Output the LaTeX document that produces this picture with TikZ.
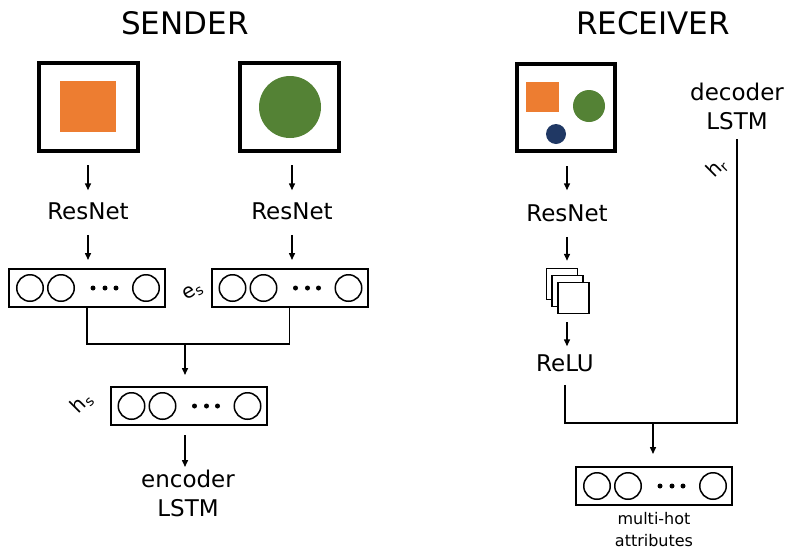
\documentclass[tikz,border=0pt]{standalone}
\usepackage{fontspec}
\setmainfont{DejaVu Sans}
\usetikzlibrary{positioning}
\usetikzlibrary{calc}
\usetikzlibrary{arrows.meta}
\definecolor{shapeorange}{RGB}{237,125,49}
\definecolor{shapegreen}{RGB}{84,130,53}
\definecolor{shapenavy}{RGB}{32,56,100}

\tikzset{
	imgbox/.style={draw, line width=4pt, minimum width=99pt, minimum height=88pt, inner sep=0},
	vecbox/.style={draw, line width=2pt, minimum width=156pt, minimum height=38pt, inner sep=0},
	unit/.style={draw, circle, line width=1.5pt, minimum size=26.5pt, inner sep=0},
	vdot/.style={fill, circle, minimum size=5pt, inner sep=0},
	txt/.style={font=\fontsize{23}{29}\selectfont, align=center, inner sep=0},
	small/.style={font=\fontsize{16}{22}\selectfont, align=center, inner sep=0},
	title/.style={font=\fontsize{31}{36}\selectfont, inner sep=0},
	sub/.style={font=\fontsize{20}{24}\selectfont, inner sep=0},
	fmap/.style={draw, fill=white, line width=1.5pt, minimum size=31pt, inner sep=0},
	arr/.style={-{Triangle[length=7pt,width=6pt]}, line width=1.5pt},
	wire/.style={line width=1.5pt},
}

% circles of one vector box
\newcommand{\vecunits}[1]{
	\node[unit] (#1u1) at ([xshift=-57pt]#1.center) {};
	\node[unit] (#1u2) at ([xshift=-26pt]#1.center) {};
	\node[vdot] (#1d1) at ([xshift=6pt]#1.center) {};
	\node[vdot] (#1d2) at ([xshift=18pt]#1.center) {};
	\node[vdot] (#1d3) at ([xshift=29pt]#1.center) {};
	\node[unit] (#1u3) at ([xshift=59pt]#1.center) {};
}

\begin{document}
\begin{tikzpicture}[x=1pt, y=-1pt]
	\useasboundingbox (0,0) rectangle (793,555);

	% Sender
	\node[title] (sender) at (185,23) {SENDER};
	\node[imgbox] (imgA) at (88.5,107) {};
	\node[fill=shapeorange, minimum width=56pt, minimum height=51pt, inner sep=0] (sqA) at (88,106.5) {};
	\node[imgbox] (imgB) at (289.5,107) {};
	\node[fill=shapegreen, circle, minimum size=62pt, inner sep=0] (ciB) at (290,107) {};

	\node[txt] (resA) at (88,211) {ResNet};
	\node[txt] (resB) at (292,211) {ResNet};
	\draw[arr, shorten <=12pt, shorten >=12pt] (imgA.south -| resA) -- (resA.north);
	\draw[arr, shorten <=12pt, shorten >=12pt] (imgB.south -| resB) -- (resB.north);

	\node[vecbox] (vecA) at (87,288) {};
	\vecunits{vecA}
	\node[vecbox] (vecB) at (289.5,288) {};
	\vecunits{vecB}
	\draw[arr, shorten <=15pt, shorten >=8pt] (resA.south) -- (resA.south |- vecA.north);
	\draw[arr, shorten <=15pt, shorten >=8pt] (resB.south) -- (resB.south |- vecB.north);
	\node[sub, rotate=30] (es) at (193,292) {e\textsubscript{s}};

	\coordinate (mergeS) at (185,344);
	\draw[wire] (vecA.south) |- (mergeS) -| (vecB.south);

	\node[vecbox] (vecH) at (188.5,406) {};
	\vecunits{vecH}
	\draw[arr, shorten >=11pt] (mergeS) -- (mergeS |- vecH.north);
	\node[sub, rotate=45] (hs) at (82,403) {h\textsubscript{s}};

	\node[txt, anchor=north] (enc) at (188,470) {encoder\\LSTM};
	\draw[arr, shorten <=9pt, shorten >=3pt] (vecH.south -| mergeS) -- (mergeS |- enc.north);

	% Receiver
	\node[title] (receiver) at (653,23) {RECEIVER};
	\node[imgbox, minimum width=98pt, minimum height=87pt] (imgR) at (566,107.5) {};
	\node[fill=shapeorange, minimum width=33pt, minimum height=30pt, inner sep=0] (sqR) at (542.5,97) {};
	\node[fill=shapegreen, circle, minimum size=32pt, inner sep=0] (ciR) at (589,106) {};
	\node[fill=shapenavy, circle, minimum size=20pt, inner sep=0] (dotR) at (556,134) {};

	\node[txt] (resR) at (567,213) {ResNet};
	\draw[arr, shorten <=13pt, shorten >=14pt] (imgR.south -| resR) -- (resR.north);

	\node[fmap] (fmA) at (562,284) {};
	\node[fmap] (fmB) at (567.5,291) {};
	\node[fmap] (fmC) at (573.5,298) {};
	\draw[arr, shorten <=15pt, shorten >=7pt] (resR.south) -- (resR.south |- fmA.north);

	\node[txt] (relu) at (565,363) {ReLU};
	\draw[arr, shorten <=8pt, shorten >=8pt] (fmC.south -| resR) -- (resR |- relu.north);

	\node[txt, anchor=south] (dec) at (737,130) {decoder\\LSTM};
	\node[sub, rotate=45] (hr) at (717,168) {h\textsubscript{r}};

	\coordinate (joinR) at (653,423);
	\draw[wire, shorten <=13pt, shorten >=9pt] (relu.south) |- (joinR) -| (dec.south);

	\node[vecbox] (vecM) at (654,486) {};
	\vecunits{vecM}
	\draw[arr, shorten >=12pt] (joinR) -- (joinR |- vecM.north);
	\node[small, below=6pt of vecM] (attr) {multi-hot\\attributes};
\end{tikzpicture}
\end{document}
